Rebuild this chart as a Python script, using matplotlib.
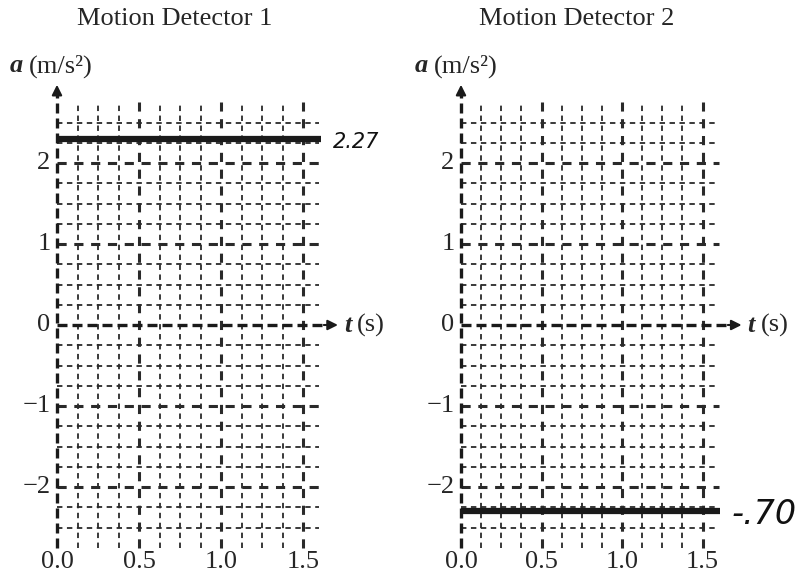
import matplotlib.pyplot as plt
import numpy as np

# chart data
titles = ['Motion Detector 1', 'Motion Detector 2']
accel = [2.30, -2.30]          # horizontal a(t) line in each panel
notes = ['2.27', '-.70']       # handwritten notes beside the lines
t_end = 1.6
xticks = [0.0, 0.5, 1.0, 1.5]
yticks = [-2, -1, 0, 1, 2]

plt.rcParams['font.family'] = ['Liberation Serif', 'DejaVu Serif']

fig = plt.figure(figsize=(8.08, 5.75), dpi=100)
W, H = 808, 575

def make_ax(x0px, xscale, y0px, yscale, xlim, ylim):
    left = x0px + xlim[0] * xscale
    right = x0px + xlim[1] * xscale
    top = y0px - ylim[1] * yscale
    bottom = y0px - ylim[0] * yscale
    ax = fig.add_axes([left / W, 1 - bottom / H, (right - left) / W, (bottom - top) / H])
    ax.set_xlim(*xlim)
    ax.set_ylim(*ylim)
    ax.axis('off')
    return ax

axes = [make_ax(57, 164, 325, 81, (-0.33, 1.85), (-3.0, 3.3)),
        make_ax(461, 161, 325, 81, (-0.3, 2.15), (-3.0, 3.3))]
arrow_tip = [1.73, 1.76]

gc = '#2a2a2a'
tc = '#262626'
for ax, title, a, note, tip in zip(axes, titles, accel, notes, arrow_tip):
    # grid
    for x in np.arange(0.125, 1.5001, 0.125):
        major = abs(x * 2 - round(x * 2)) < 1e-6
        ax.plot([x, x], [-2.75, 2.75], color=gc, ls=(0, (3, 2.5)),
                lw=2.2 if major else 1.3, zorder=1)
    for y in np.arange(-2.5, 2.5001, 0.25):
        if abs(y) < 1e-6:
            continue
        major = abs(y - round(y)) < 1e-6
        ax.plot([0, t_end], [y, y], color=gc, ls=(0, (3, 2.5)),
                lw=2.2 if major else 1.3, zorder=1)
    # axes with arrows
    ax.plot([0, 0], [-2.75, 2.85], color='#1a1a1a', ls=(0, (3, 1.5)), lw=2.4, zorder=2)
    ax.plot([0, tip - 0.08], [0, 0], color='#1a1a1a', ls=(0, (3, 1.5)), lw=2.4, zorder=2)
    ax.annotate('', xy=(0, 3.0), xytext=(0, 2.8),
                arrowprops=dict(arrowstyle='-|>', color='#1a1a1a', lw=1.5,
                                mutation_scale=15))
    ax.annotate('', xy=(tip, 0), xytext=(tip - 0.12, 0),
                arrowprops=dict(arrowstyle='-|>', color='#1a1a1a', lw=1.5,
                                mutation_scale=15))
    # tick labels
    for y in yticks:
        lab = '0' if y == 0 else ('\u2212%d' % -y if y < 0 else '%d' % y)
        ax.text(-0.04, y, lab, ha='right', va='center', fontsize=19, color=tc)
    for x in xticks:
        ax.text(x, -2.92, '%.1f' % x, ha='center', va='center', fontsize=19, color=tc)
    # axis labels and title
    ax.text(tip + 0.02, 0, 't', ha='left', va='center', fontsize=19, color=tc,
            weight='bold', style='italic')
    ax.text(tip + 0.1, 0, '(s)', ha='left', va='center', fontsize=19, color=tc)
    ax.text(-0.29, 3.2, 'a', ha='left', va='center', fontsize=19, color=tc,
            weight='bold', style='italic')
    ax.text(-0.17, 3.2, '(m/s\u00b2)', ha='left', va='center', fontsize=19, color=tc)
    ax.text(0.72, 3.78, title, ha='center', va='center', fontsize=19,
            color=tc, clip_on=False)
    # the measured acceleration
    ax.plot([0, 1.61], [a, a], color='#1a1a1a', lw=4.5, solid_capstyle='butt', zorder=3)
    ax.text(1.68, a - 0.04, note, ha='left', va='center', fontsize=24 if a < 0 else 15,
            style='italic', color='#111111', family=['DejaVu Sans'])

fig.savefig('out.png', dpi=100, facecolor='white')
